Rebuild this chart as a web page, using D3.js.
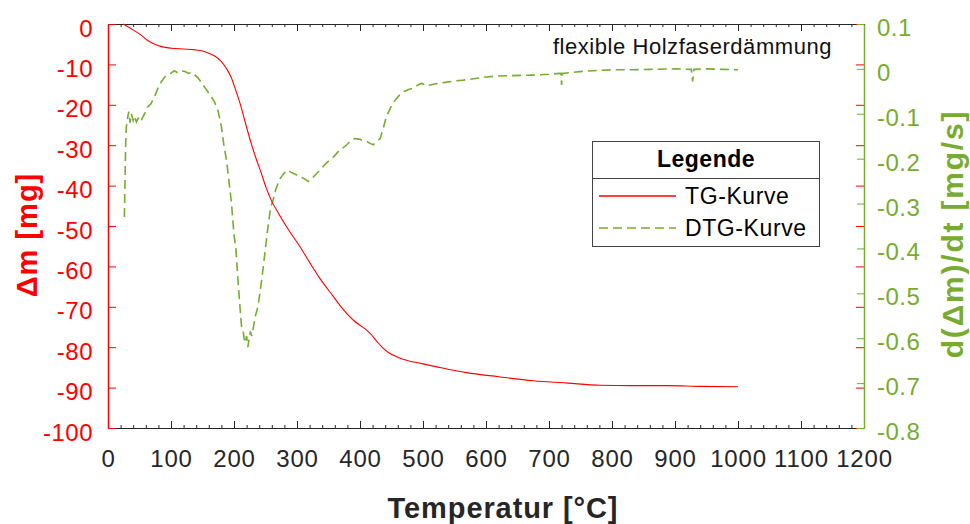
<!DOCTYPE html>
<html>
<head>
<meta charset="utf-8">
<script src="https://cdn.jsdelivr.net/npm/d3@7/dist/d3.min.js"></script>
<style>
  html, body { margin: 0; padding: 0; background: #fff; }
  svg { display: block; font-family: "Liberation Sans", Arial, Helvetica, sans-serif; }
</style>
</head>
<body>
<svg id="chart" width="970" height="524"></svg>
<script>
// ---------- data ----------
const xTicks = [0, 100, 200, 300, 400, 500, 600, 700, 800, 900, 1000, 1100, 1200];
const yLeftTicks = [0, -10, -20, -30, -40, -50, -60, -70, -80, -90, -100];
const yRightTicks = [0.1, 0, -0.1, -0.2, -0.3, -0.4, -0.5, -0.6, -0.7, -0.8];

// TG curve: temperature [°C], mass change [mg]
const tgTemp = [24, 35, 52, 63, 74, 85, 100, 120, 138, 150, 159, 170, 180, 188, 195, 203, 211, 219, 227, 235, 243, 251, 259, 270, 286, 305, 320, 336, 357, 373, 390, 403, 410, 416, 427, 437, 445, 460, 475, 490, 520, 569, 620, 675, 730, 781, 830, 887, 940, 1000];
const tgMass = [0, -1.0, -2.7, -4.1, -5.0, -5.6, -6.0, -6.2, -6.4, -6.7, -7.2, -8.0, -9.3, -11, -13, -16.5, -20.4, -25, -29.4, -33.3, -36.8, -40.5, -43.6, -46.7, -50.8, -55.2, -59.0, -62.9, -67.3, -70.6, -73.4, -74.9, -75.7, -76.6, -78.6, -80.3, -81.3, -82.5, -83.3, -83.8, -84.8, -86.3, -87.3, -88.3, -88.9, -89.4, -89.5, -89.5, -89.7, -89.8];

// DTG curve: temperature [°C], rate [mg/s]
const dtgTemp = [26, 27, 28, 29, 31, 33, 35, 37, 40, 42, 45, 48, 52, 55, 60, 63, 68, 74, 80, 85, 90, 95, 100, 105, 110, 115, 122, 128, 133, 138, 143, 148, 153, 158, 163, 169, 175, 180, 184, 188, 192, 196, 200, 203, 207, 210, 212, 214, 216, 218, 220, 222, 224, 226, 228, 231, 234, 238, 241, 244, 249, 254, 258, 262, 266, 270, 273, 278, 284, 290, 299, 305, 312, 318, 325, 332, 337, 345, 352, 358, 365, 372, 379, 385, 392, 400, 405, 411, 416, 421, 427, 432, 437, 442, 449, 456, 463, 469, 477, 485, 492, 498, 505, 511, 520, 535, 550, 564, 580, 600, 617, 640, 670, 700, 717, 719, 720, 721, 735, 749, 770, 800, 830, 860, 900, 926, 928, 930, 950, 975, 1000];
const dtgRate = [-0.33, -0.25, -0.17, -0.13, -0.11, -0.095, -0.12, -0.10, -0.115, -0.105, -0.118, -0.11, -0.118, -0.108, -0.095, -0.085, -0.078, -0.062, -0.040, -0.028, -0.018, -0.012, -0.010, -0.004, -0.008, -0.004, -0.006, -0.010, -0.008, -0.014, -0.020, -0.030, -0.040, -0.050, -0.060, -0.073, -0.095, -0.129, -0.17, -0.203, -0.25, -0.299, -0.37, -0.40, -0.485, -0.54, -0.574, -0.58, -0.60, -0.61, -0.595, -0.62, -0.60, -0.585, -0.595, -0.574, -0.55, -0.53, -0.50, -0.47, -0.411, -0.351, -0.31, -0.292, -0.27, -0.255, -0.245, -0.235, -0.225, -0.230, -0.236, -0.240, -0.245, -0.251, -0.242, -0.232, -0.225, -0.212, -0.203, -0.196, -0.185, -0.177, -0.169, -0.160, -0.155, -0.157, -0.160, -0.162, -0.166, -0.169, -0.162, -0.155, -0.132, -0.106, -0.085, -0.069, -0.058, -0.051, -0.046, -0.043, -0.036, -0.032, -0.038, -0.036, -0.033, -0.030, -0.027, -0.025, -0.022, -0.018, -0.016, -0.015, -0.014, -0.012, -0.010, -0.010, -0.036, -0.010, -0.008, -0.006, -0.004, -0.002, -0.002, -0.001, 0.000, -0.001, -0.028, -0.001, 0.000, -0.001, -0.002];

const titleText = "flexible Holzfaserdämmung";
const xLabel = "Temperatur [°C]";
const yLeftLabel = "Δm [mg]";
const yRightLabel = "d(Δm)/dt [mg/s]";
const seriesNames = ["TG-Kurve", "DTG-Kurve"];
const legendTitle = "Legende";

// ---------- layout ----------
const RED = "#ff0000", GREEN = "#77ac30", DARK = "#262626";
const L = 108, R = 864, T = 24, B = 428;
const svg = d3.select("#chart");

const x = d3.scaleLinear().domain([0, 1200]).range([L, R]);
const yL = d3.scaleLinear().domain([-100, 0]).range([B, T]);
const yR = d3.scaleLinear().domain([-0.8, 0.1]).range([B, T]);

const fmtR = v => { const s = (+v.toFixed(1)).toString(); return s === "-0" ? "0" : s; };
const minorX = d3.range(0, 1201, 20).filter(v => v % 100 !== 0);

// bottom axis
const gB = svg.append("g").attr("transform", `translate(0,${B})`)
  .call(d3.axisBottom(x).tickValues(xTicks).tickSize(-7).tickSizeOuter(0).tickPadding(0).tickFormat(d3.format("d")));
gB.selectAll("text").attr("y", 39).attr("dy", null).attr("fill", DARK).attr("font-size", 24).attr("letter-spacing", 0.8);
const gBm = svg.append("g").attr("transform", `translate(0,${B})`)
  .call(d3.axisBottom(x).tickValues(minorX).tickSize(-3).tickSizeOuter(0).tickFormat(""));
gBm.select(".domain").remove();

// top axis
svg.append("g").attr("transform", `translate(0,${T})`)
  .call(d3.axisTop(x).tickValues(xTicks).tickSize(-7).tickSizeOuter(0).tickFormat(""));
const gTm = svg.append("g").attr("transform", `translate(0,${T})`)
  .call(d3.axisTop(x).tickValues(minorX).tickSize(-3).tickSizeOuter(0).tickFormat(""));
gTm.select(".domain").remove();
svg.selectAll("g").each(function(){
  d3.select(this).selectAll(".domain, line").attr("stroke", DARK);
});

// right axis: mirrored red ticks of the left axis
const gRr = svg.append("g").attr("transform", `translate(${R},0)`)
  .call(d3.axisRight(yL).tickValues(yLeftTicks).tickSize(-8).tickSizeOuter(0).tickFormat(""));
gRr.selectAll("line").attr("stroke", RED);
gRr.select(".domain").remove();

// right axis (green)
const gR = svg.append("g").attr("transform", `translate(${R},0)`)
  .call(d3.axisRight(yR).tickValues(yRightTicks).tickSize(-7).tickSizeOuter(0).tickPadding(13).tickFormat(fmtR));
gR.selectAll(".domain, line").attr("stroke", GREEN);
gR.select(".domain").attr("stroke-width", 1.5);
gR.selectAll("text").attr("fill", GREEN).attr("font-size", 24).attr("dy", null).attr("y", 11.5).attr("letter-spacing", 0.5);

// left axis (red)
const gL = svg.append("g").attr("transform", `translate(${L},0)`)
  .call(d3.axisLeft(yL).tickValues(yLeftTicks).tickSize(-8).tickSizeOuter(0).tickPadding(15).tickFormat(d3.format("d")));
gL.selectAll(".domain, line").attr("stroke", RED);
gL.select(".domain").attr("stroke-width", 1.5);
gL.selectAll("text").attr("fill", RED).attr("font-size", 24).attr("dy", null).attr("y", 12).attr("letter-spacing", 0.5)
  .text(d => String(d).replace("−", "-"));

// ---------- curves ----------
const tgData = tgTemp.map((t, i) => [t, tgMass[i]]);
const dtgData = dtgTemp.map((t, i) => [t, dtgRate[i]]);

svg.append("path").datum(dtgData)
  .attr("fill", "none").attr("stroke", GREEN).attr("stroke-width", 1.6)
  .attr("stroke-dasharray", "9,5")
  .attr("d", d3.line().x(d => x(d[0])).y(d => yR(d[1])));

svg.append("path").datum(tgData)
  .attr("fill", "none").attr("stroke", RED).attr("stroke-width", 1.1)
  .attr("d", d3.line().curve(d3.curveMonotoneX).x(d => x(d[0])).y(d => yL(d[1])));

// ---------- texts ----------
svg.append("text").attr("x", 832).attr("y", 54).attr("text-anchor", "end")
  .attr("font-size", 22).attr("letter-spacing", 0.55).attr("fill", "#111").text(titleText);

svg.append("text").attr("x", 503).attr("y", 518).attr("text-anchor", "middle")
  .attr("font-size", 29).attr("letter-spacing", 0.9).attr("font-weight", "bold").attr("fill", DARK).text(xLabel);

svg.append("text").attr("transform", "translate(37,235) rotate(-90)").attr("text-anchor", "middle")
  .attr("font-size", 29).attr("letter-spacing", 1).attr("font-weight", "bold").attr("fill", RED).text(yLeftLabel);

svg.append("text").attr("transform", "translate(963,234) rotate(-90)").attr("text-anchor", "middle")
  .attr("font-size", 30).attr("letter-spacing", 1.8).attr("font-weight", "bold").attr("fill", GREEN).text(yRightLabel);

// ---------- legend ----------
const lg = svg.append("g");
lg.append("rect").attr("x", 592.5).attr("y", 141.5).attr("width", 227).attr("height", 105)
  .attr("fill", "#fff").attr("stroke", "#444").attr("stroke-width", 1);
lg.append("line").attr("x1", 592.5).attr("x2", 819.5).attr("y1", 178.5).attr("y2", 178.5)
  .attr("stroke", "#444").attr("stroke-width", 1);
lg.append("text").attr("x", 706).attr("y", 167).attr("text-anchor", "middle")
  .attr("font-size", 23).attr("letter-spacing", 0.5).attr("font-weight", "bold").attr("fill", "#000").text(legendTitle);
const items = [
  { name: seriesNames[0], color: RED, dash: null, w: 1.5 },
  { name: seriesNames[1], color: GREEN, dash: "9,5", w: 1.6 }
];
items.forEach((it, i) => {
  const yy = 196 + i * 32;
  lg.append("line").attr("x1", 599).attr("x2", 676).attr("y1", yy).attr("y2", yy)
    .attr("stroke", it.color).attr("stroke-width", it.w).attr("stroke-dasharray", it.dash);
  lg.append("text").attr("x", 685).attr("y", yy + 8).attr("font-size", 23).attr("letter-spacing", 0.6)
    .attr("fill", "#000").text(it.name);
});
</script>
</body>
</html>
